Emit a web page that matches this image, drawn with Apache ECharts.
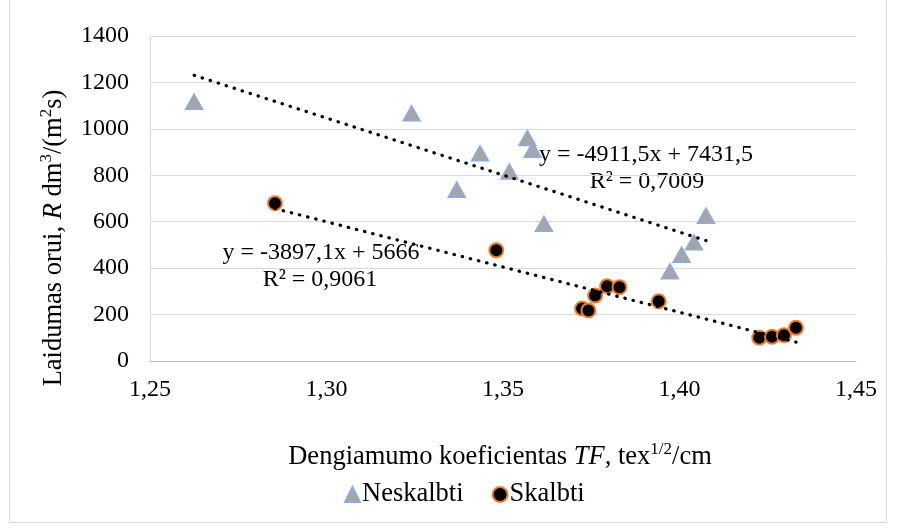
<!DOCTYPE html>
<html>
<head>
<meta charset="utf-8">
<script src="https://cdn.jsdelivr.net/npm/echarts@6/dist/echarts.min.js"></script>
<style>
html,body{margin:0;padding:0;background:#fff;}
#c{width:899px;height:529px;}
</style>
</head>
<body>
<div id="c"></div>
<script>
// ---- data ----
var neskalbtiX = [1.2625, 1.3241, 1.3569, 1.3584, 1.3435, 1.3518, 1.3369, 1.3616, 1.3973, 1.4006, 1.4041, 1.4075];
var neskalbtiY = [1117, 1067, 960, 910, 895, 816, 738, 591, 386, 458, 511, 626];
var skalbtiX = [1.2854, 1.3481, 1.3724, 1.3742, 1.3761, 1.3795, 1.3830, 1.3941, 1.4226, 1.4262, 1.4296, 1.4330];
var skalbtiY = [680, 477, 226, 218, 282, 322, 318, 257, 100, 104, 111, 143];
var neskalbtiTrend = [-4911.5, 7431.5];   // slope, intercept
var skalbtiTrend = [-3897.1, 5666];
var seriesNames = ['Neskalbti', 'Skalbti'];
var neskalbtiEq = ['y = -4911,5x + 7431,5', 'R² = 0,7009'];
var skalbtiEq = ['y = -3897,1x + 5666', 'R² = 0,9061'];
var xTicks = [1.25, 1.30, 1.35, 1.40, 1.45];
var yTicks = [0, 200, 400, 600, 800, 1000, 1200, 1400];

function pairs(xs, ys){ return xs.map(function(x,i){ return [x, ys[i]]; }); }
function trendPts(xs, t){
  var lo = Math.min.apply(null, xs), hi = Math.max.apply(null, xs);
  return [[lo, t[0]*lo + t[1]], [hi, t[0]*hi + t[1]]];
}

var FONT = '"Liberation Serif", "Times New Roman", serif';
var chart = echarts.init(document.getElementById('c'), null, {renderer:'canvas'});

var dotStyle = {color:'#000', width:3.2, type:[0.5, 7.9], cap:'round'};

chart.setOption({
  backgroundColor:'#fff',
  animation:false,
  grid:{left:150, right:43, top:36, bottom:168},
  xAxis:{
    type:'value', min:xTicks[0], max:xTicks[xTicks.length-1], interval:0.05,
    axisLine:{show:true, lineStyle:{color:'#BFBFBF', width:1}},
    axisTick:{show:false},
    splitLine:{show:false},
    axisLabel:{margin:17, color:'#000', fontSize:24, fontFamily:FONT,
      formatter:function(v){ return v.toFixed(2).replace('.', ','); }}
  },
  yAxis:{
    type:'value', min:yTicks[0], max:yTicks[yTicks.length-1], interval:200,
    axisLine:{show:true, lineStyle:{color:'#D9D9D9', width:1}},
    axisTick:{show:false},
    splitLine:{show:true, lineStyle:{color:'#D9D9D9', width:1}},
    axisLabel:{margin:21, color:'#000', fontSize:24, fontFamily:FONT,
      formatter:function(v){ return String(v); }}
  },
  legend:{
    left:339, top:476, itemWidth:15, itemHeight:15, itemGap:28,
    textStyle:{fontSize:26.5, fontFamily:FONT, color:'#000', padding:[0,0,0,-3]},
    data:[{name:seriesNames[0], icon:'triangle'}, {name:seriesNames[1], icon:'circle'}]
  },
  series:[
    {name:seriesNames[0], type:'scatter', symbol:'triangle', symbolSize:[17,15],
     itemStyle:{color:'#A5A5A5', borderColor:'#8FAADC', borderWidth:1.5, opacity:1},
     data:pairs(neskalbtiX, neskalbtiY), z:2},
    {name:seriesNames[1], type:'scatter', symbol:'circle', symbolSize:14,
     itemStyle:{color:'#000', borderColor:'#ED7D31', borderWidth:2, opacity:1},
     data:pairs(skalbtiX, skalbtiY), z:2},
    {name:'trendN', type:'line', data:trendPts(neskalbtiX, neskalbtiTrend), symbol:'none',
     lineStyle:dotStyle, z:3, silent:true},
    {name:'trendS', type:'line', data:trendPts(skalbtiX, skalbtiTrend), symbol:'none',
     lineStyle:dotStyle, z:3, silent:true}
  ],
  graphic:[
    {type:'rect', shape:{x:9.5, y:-2, width:877, height:524.5}, style:{fill:'none', stroke:'#D9D9D9', lineWidth:1}, z:-1},
    {type:'text', x:321, y:253, style:{text:skalbtiEq[0], font:'24px '+FONT, fill:'#000', align:'center', verticalAlign:'middle'}},
    {type:'text', x:320, y:280, style:{text:skalbtiEq[1], font:'24px '+FONT, fill:'#000', align:'center', verticalAlign:'middle'}},
    {type:'text', x:646, y:155, style:{text:neskalbtiEq[0], font:'24px '+FONT, fill:'#000', align:'center', verticalAlign:'middle'}},
    {type:'text', x:647, y:182, style:{text:neskalbtiEq[1], font:'24px '+FONT, fill:'#000', align:'center', verticalAlign:'middle'}},
    {type:'text', x:500, y:456, style:{
      text:'{n|Dengiamumo koeficientas }{i|TF}{n|, tex}{s|1/2}{n|/cm}',
      align:'center', verticalAlign:'middle',
      rich:{
        n:{fontSize:26.5, fontFamily:FONT, fill:'#000', lineHeight:30, verticalAlign:'bottom'},
        i:{fontSize:26.5, fontFamily:FONT, fontStyle:'italic', fill:'#000', lineHeight:30, verticalAlign:'bottom'},
        s:{fontSize:17, fontFamily:FONT, fill:'#000', lineHeight:17, verticalAlign:'top'}
      }}},
    {type:'text', x:53, y:238, rotation:Math.PI/2, style:{
      text:'{n|Laidumas orui, }{i|R}{n| dm}{s|3}{n|/(m}{s|2}{n|s)}',
      align:'center', verticalAlign:'middle',
      rich:{
        n:{fontSize:26.5, fontFamily:FONT, fill:'#000', lineHeight:30, verticalAlign:'bottom'},
        i:{fontSize:26.5, fontFamily:FONT, fontStyle:'italic', fill:'#000', lineHeight:30, verticalAlign:'bottom'},
        s:{fontSize:17, fontFamily:FONT, fill:'#000', lineHeight:17, verticalAlign:'top'}
      }}}
  ]
});
</script>
</body>
</html>
